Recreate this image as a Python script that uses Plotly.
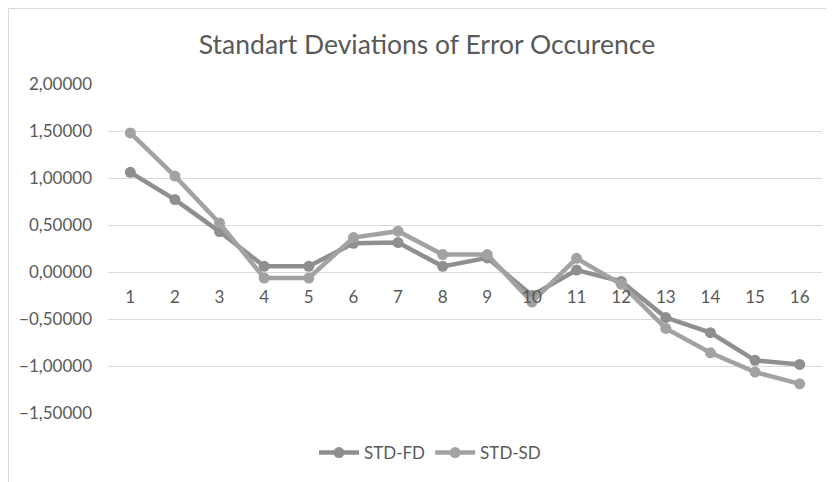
import plotly.graph_objects as go

categories = [str(i) for i in range(1, 17)]
std_fd = [1.06, 0.77, 0.43, 0.06, 0.06, 0.306, 0.313, 0.06, 0.15, -0.25, 0.02, -0.10, -0.485, -0.645, -0.94, -0.983]
std_sd = [1.48, 1.02, 0.52, -0.064, -0.064, 0.366, 0.434, 0.185, 0.185, -0.32, 0.146, -0.13, -0.60, -0.86, -1.065, -1.19]
y_ticks = [-1.5, -1.0, -0.5, 0.0, 0.5, 1.0, 1.5, 2.0]

FONT = "Lato"
TXT = "#595959"

fig = go.Figure()
fig.add_trace(go.Scatter(x=categories, y=std_fd, name="STD-FD", mode="lines+markers",
                         line=dict(color="#8f8f8f", width=4.5),
                         marker=dict(size=11, color="#8f8f8f")))
fig.add_trace(go.Scatter(x=categories, y=std_sd, name="STD-SD", mode="lines+markers",
                         line=dict(color="#a2a2a2", width=4.5),
                         marker=dict(size=11, color="#a2a2a2")))

# page is offset by the 8px body margin
OFF = 8
W, H = 834 - OFF, 482 - OFF
ml = 108 - OFF
mt = 84 - OFF
mr = W - (822 - OFF)
mb = H - (413 - OFF)
pw, ph = W - ml - mr, H - mt - mb

def px(x):
    return (x - OFF - ml) / pw

def py(y):
    return (H - mb - (y - OFF)) / ph

fig.update_layout(
    width=W, height=H,
    margin=dict(l=ml, r=mr, t=mt, b=mb, autoexpand=False),
    paper_bgcolor="white", plot_bgcolor="white",
    separators=",.",
    font=dict(family=FONT, color=TXT, size=17),
    title=dict(text="Standart Deviations of Error Occurence", x=(427 - OFF) / W, xanchor="center",
               y=1 - (45 - OFF) / H, yanchor="middle", font=dict(size=26.5, color=TXT, family=FONT)),
    showlegend=True,
    legend=dict(orientation="h", x=px(430), y=py(453), xanchor="center", yanchor="middle",
                font=dict(size=17, color=TXT), itemwidth=40, bgcolor="rgba(0,0,0,0)"),
    xaxis=dict(type="category", anchor="free", position=1.5 / 3.5, showline=False,
               showgrid=False, zeroline=False, ticks="", ticklabelstandoff=13, automargin=False,
               tickfont=dict(size=17, color=TXT), range=[-0.5, 15.5]),
    yaxis=dict(range=[-1.5, 2.0], tickvals=y_ticks, tickformat=".5f", showgrid=True,
               gridcolor="#d9d9d9", gridwidth=1, zeroline=False, showline=False, ticks="",
               automargin=False,
               ticklabelstandoff=15, tickfont=dict(size=17, color=TXT)),
    shapes=[dict(type="rect", xref="paper", yref="paper", x0=px(8.5), x1=px(900),
                 y0=py(600), y1=py(8.5), line=dict(color="#d9d9d9", width=1),
                 fillcolor="rgba(0,0,0,0)", layer="below")],
)

fig.write_html("out.html")
